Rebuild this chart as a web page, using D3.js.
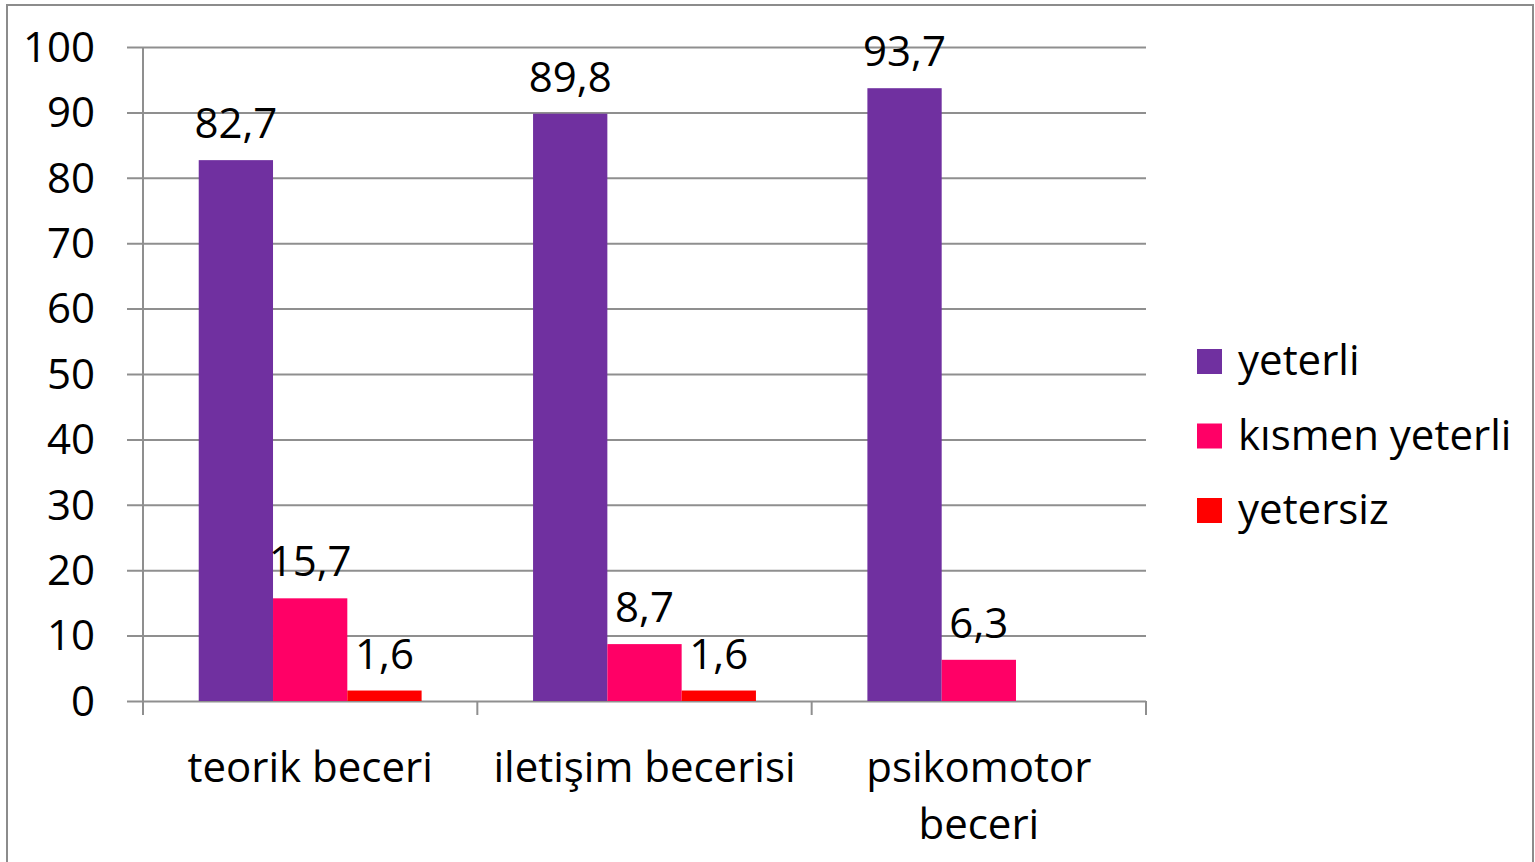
<!DOCTYPE html>
<html>
<head>
<meta charset="utf-8">
<script src="https://cdn.jsdelivr.net/npm/d3@7"></script>
<style>
html,body{margin:0;padding:0;background:#fff;overflow:hidden;}
svg{display:block;}
text{font-family:"Open Sans",Lato,sans-serif;fill:#000;}
</style>
</head>
<body>
<svg id="chart" width="1535" height="862"></svg>
<script>
const categories = ["teorik beceri", "iletişim becerisi", "psikomotor beceri"];
const categoryLines = [["teorik beceri"], ["iletişim becerisi"], ["psikomotor", "beceri"]];
const seriesNames = ["yeterli", "kısmen yeterli", "yetersiz"];
const yeterli = [82.7, 89.8, 93.7];
const kismenYeterli = [15.7, 8.7, 6.3];
const yetersiz = [1.6, 1.6, null];
const seriesColors = ["#7030A0", "#FF0066", "#FF0000"];
const yTicks = [0, 10, 20, 30, 40, 50, 60, 70, 80, 90, 100];

const seriesValues = [yeterli, kismenYeterli, yetersiz];
const svg = d3.select("#chart");
const fontSize = 42;
const gridColor = "#8f8f8f";

// outer border
svg.append("rect").attr("x", 7).attr("y", 5).attr("width", 1526).attr("height", 880)
  .attr("fill", "none").attr("stroke", "#8c8c8c").attr("stroke-width", 2);

const plot = {left: 143, right: 1146, top: 47, bottom: 701};

const x0 = d3.scaleBand().domain(categories).range([plot.left, plot.right]).padding(0);
const bw = x0.bandwidth();
const gap = bw * 1.5 / 4.5;
const x1 = d3.scaleBand().domain(seriesNames).range([gap / 2, bw - gap / 2]).padding(0);
const y = d3.scaleLinear().domain([0, 100]).range([plot.bottom, plot.top]);

// gridlines + y axis
const yAxis = d3.axisLeft(y).tickValues(yTicks).tickSize(16).tickPadding(30).tickFormat(d3.format("d"));
const gy = svg.append("g").attr("transform", `translate(${plot.left},0)`).call(yAxis);
gy.select(".domain").remove();
gy.selectAll(".tick line").attr("stroke", gridColor).attr("stroke-width", 2)
  .attr("x1", plot.right - plot.left).attr("x2", -16);
gy.selectAll(".tick text").attr("font-size", fontSize).attr("font-family", '"Open Sans",sans-serif')
  .attr("x", -48).attr("dy", "0.34em");

// y axis line
svg.append("line").attr("x1", plot.left).attr("x2", plot.left).attr("y1", plot.top).attr("y2", plot.bottom + 14)
  .attr("stroke", gridColor).attr("stroke-width", 2);

// x axis tick marks at category boundaries
const boundaries = categories.map(c => x0(c)).concat([plot.right]);
svg.selectAll(".xtick").data(boundaries).enter().append("line")
  .attr("x1", d => d).attr("x2", d => d).attr("y1", plot.bottom).attr("y2", plot.bottom + 14)
  .attr("stroke", gridColor).attr("stroke-width", 2);

// bars
const groups = svg.selectAll(".grp").data(categories).enter().append("g")
  .attr("transform", c => `translate(${x0(c)},0)`);

const fmt = v => String(v).replace(".", ",");

seriesNames.forEach((s, si) => {
  groups.each(function(c, ci) {
    const v = seriesValues[si][ci];
    if (v === null || v === undefined) return;
    const g = d3.select(this);
    g.append("rect").attr("x", x1(s)).attr("width", x1.bandwidth())
      .attr("y", y(v)).attr("height", y(0) - y(v)).attr("fill", seriesColors[si]);
    g.append("text").attr("x", x1(s) + x1.bandwidth() / 2).attr("y", y(v) - 22)
      .attr("text-anchor", "middle").attr("font-size", fontSize).text(fmt(v));
  });
});

// category labels
categories.forEach((c, ci) => {
  const t = svg.append("text").attr("text-anchor", "middle").attr("font-size", fontSize)
    .attr("x", x0(c) + bw / 2);
  categoryLines[ci].forEach((line, li) => {
    t.append("tspan").attr("x", x0(c) + bw / 2).attr("y", 782 + li * 57).text(line);
  });
});

// legend
const legend = svg.append("g");
seriesNames.forEach((s, i) => {
  const cy = 362 + i * 74.5;
  legend.append("rect").attr("x", 1197).attr("y", cy - 13).attr("width", 25).attr("height", 25)
    .attr("fill", seriesColors[i]);
  legend.append("text").attr("x", 1238).attr("y", cy + 13).attr("font-size", fontSize).text(s);
});
</script>
</body>
</html>
